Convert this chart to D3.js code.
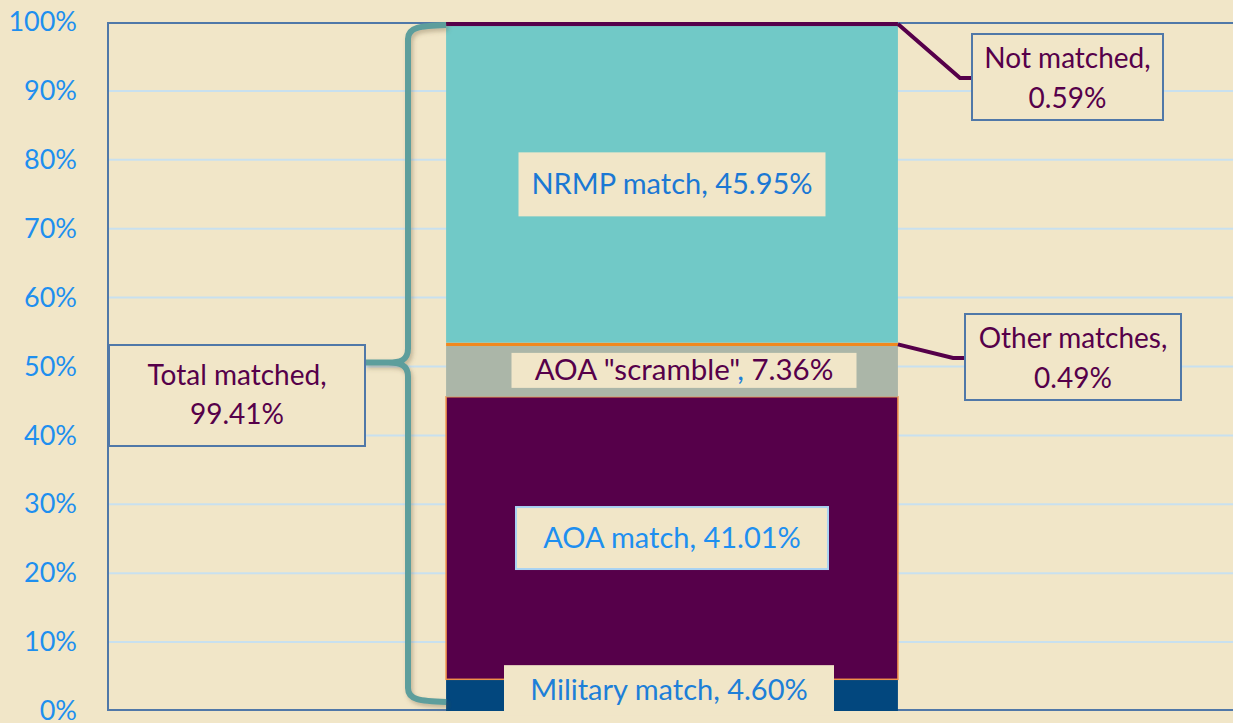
<!DOCTYPE html>
<html>
<head>
<meta charset="utf-8">
<script src="https://cdn.jsdelivr.net/npm/d3@7"></script>
<style>
  html, body { margin: 0; padding: 0; background: #f1e6c8; overflow: hidden; }
  svg { display: block; font-family: Lato, "Noto Sans", sans-serif; }
</style>
</head>
<body>
<div id="chart"></div>
<script>
// bar segments, bottom to top
const segments = ["Military match", "AOA match", "AOA \"scramble\"", "Other matches", "NRMP match", "Not matched"];
const shares = [4.60, 41.01, 7.36, 0.49, 45.95, 0.59];
const yTicks = [0, 10, 20, 30, 40, 50, 60, 70, 80, 90, 100];
const totalLabel = "Total matched";
const totalShare = 99.41;

const segColors = ["#02477e", "#56004a", "#abb6a8", "#f0881f", "#71c9c7", "#56004a"];

const W = 1233, H = 723;
const plot = {left: 108, right: 1236, top: 22, bottom: 711};

let svg = d3.select("#chart").append("svg")
    .attr("width", W).attr("height", H);

svg.append("rect").attr("width", W).attr("height", H).attr("fill", "#f1e6c8");

let defs = svg.append("defs");
defs.append("filter").attr("id", "shadow")
    .attr("x", "-50%").attr("y", "-10%").attr("width", "200%").attr("height", "120%")
    .append("feDropShadow")
    .attr("dx", 2).attr("dy", 3).attr("stdDeviation", 2)
    .attr("flood-color", "#6b5a3a").attr("flood-opacity", 0.35);

let y = d3.scaleLinear().domain([0, 100]).range([plot.bottom, plot.top]);
let x = d3.scaleBand().domain(["all"]).range([plot.left, plot.right]).padding(0.428);

// gridlines
svg.append("g")
    .selectAll("line")
    .data(yTicks.filter(d => d > 0 && d < 100))
    .enter().append("line")
    .attr("x1", plot.left).attr("x2", W)
    .attr("y1", d => y(d)).attr("y2", d => y(d))
    .attr("stroke", "#c8e0ef").attr("stroke-width", 2);

// frame
svg.append("path")
    .attr("d", `M${W},${y(100) + 1}H${plot.left}V${plot.bottom - 1}H${W}`)
    .attr("fill", "none").attr("stroke", "#5078a8").attr("stroke-width", 2);

// y axis labels
let yAxis = svg.append("g")
    .attr("transform", "translate(" + plot.left + ",0)")
    .call(d3.axisLeft(y).tickValues(yTicks).tickFormat(d => d + "%").tickSize(0).tickPadding(31));
yAxis.select(".domain").remove();
yAxis.selectAll("text")
    .attr("fill", "#1e8fef")
    .style("font-size", "27px")
    .style("font-family", "Lato, 'Noto Sans', sans-serif");

// stacked segments
let cum = 0;
let stacked = shares.map((v, i) => {
    let d = {name: segments[i], value: v, y0: cum, y1: cum + v, color: segColors[i]};
    cum += v;
    return d;
});

svg.append("g")
    .selectAll("rect")
    .data(stacked)
    .enter().append("rect")
    .attr("x", x("all"))
    .attr("width", x.bandwidth())
    .attr("y", d => y(d.y1))
    .attr("height", d => y(d.y0) - y(d.y1))
    .attr("fill", d => d.color)
    .attr("stroke", d => d.name === "AOA match" ? "#f0904a" : "none")
    .attr("stroke-width", 1.5);

// labels inside the bar
const cx = x("all") + x.bandwidth() / 2;
function boxLabel(d, opts) {
    let cy = y((d.y0 + d.y1) / 2) + (opts.dy || 0);
    let lx = cx + (opts.dx || 0);
    let g = svg.append("g");
    g.append("rect")
        .attr("x", lx - opts.w / 2).attr("y", cy - opts.h / 2)
        .attr("width", opts.w).attr("height", opts.h)
        .attr("fill", "#f1e6c8")
        .attr("stroke", opts.stroke || "none").attr("stroke-width", 2);
    let t = g.append("text")
        .attr("x", lx).attr("y", cy + 10)
        .attr("text-anchor", "middle")
        .style("font-size", opts.size || "29px")
        .attr("fill", opts.color);
    return t;
}

function pct(v) { return v.toFixed(2) + "%"; }

boxLabel(stacked[0], {w: 330, h: 50, dx: -3, dy: -5, color: "#1d7fd8"})
    .text(stacked[0].name + ", " + pct(stacked[0].value));
boxLabel(stacked[1], {w: 312, h: 62, color: "#1e8ff0", stroke: "#a9d2f2"})
    .text(stacked[1].name + ", " + pct(stacked[1].value));
let scr = boxLabel(stacked[2], {w: 345, h: 35, dx: 12, dy: -1, size: "29.5px", color: "#56004a"});
scr.append("tspan").text(stacked[2].name);
scr.append("tspan").attr("fill", "#1e7fd8").text(",");
scr.append("tspan").text(" " + pct(stacked[2].value));
boxLabel(stacked[4], {w: 307, h: 64, color: "#1b78d4"})
    .text(stacked[4].name + ", " + pct(stacked[4].value));

// callouts on the right
const barRight = x("all") + x.bandwidth();
function callout(d, box, elbow) {
    let sy = y((d.y0 + d.y1) / 2);
    svg.append("path")
        .attr("d", `M${barRight},${sy}L${elbow[0]},${elbow[1]}H${box.x}`)
        .attr("fill", "none").attr("stroke", "#56004a").attr("stroke-width", 4);
    svg.append("rect")
        .attr("x", box.x).attr("y", box.y).attr("width", box.w).attr("height", box.h)
        .attr("fill", "#f1e6c8").attr("stroke", "#5078a8").attr("stroke-width", 2);
    let t = svg.append("text")
        .attr("text-anchor", "middle")
        .attr("fill", "#56004a")
        .style("font-size", "28px");
    t.append("tspan").attr("x", box.x + box.w / 2).attr("y", box.y + 34).text(d.name + ",");
    t.append("tspan").attr("x", box.x + box.w / 2).attr("y", box.y + 74).text(pct(d.value));
}

callout(stacked[5], {x: 972, y: 34, w: 191, h: 86}, [960, 78]);
callout(stacked[3], {x: 965, y: 314, w: 216, h: 86}, [953, 358]);

// brace for total matched
const bx = 408;
const bTop = y(totalShare) - 1, bBot = y(0) - 9, bMid = y(totalShare / 2) - 6;
let brace = d3.path();
brace.moveTo(x("all"), bTop);
brace.bezierCurveTo(420, bTop + 1, bx, bTop + 2, bx, bTop + 14);
brace.lineTo(bx, bMid - 14);
brace.bezierCurveTo(bx, bMid - 2, bx - 8, bMid, bx - 20, bMid);
brace.lineTo(365, bMid);
brace.moveTo(bx - 20, bMid);
brace.bezierCurveTo(bx - 8, bMid, bx, bMid + 2, bx, bMid + 14);
brace.lineTo(bx, bBot - 14);
brace.bezierCurveTo(bx, bBot - 2, 420, bBot - 1, x("all"), bBot);
svg.append("path")
    .attr("d", brace.toString())
    .attr("fill", "none")
    .attr("stroke", "#5d9e9c").attr("stroke-width", 6)
    .attr("stroke-linejoin", "round")
    .attr("filter", "url(#shadow)");

svg.append("rect")
    .attr("x", 109).attr("y", 345).attr("width", 256).attr("height", 101)
    .attr("fill", "#f1e6c8").attr("stroke", "#5078a8").attr("stroke-width", 2);
let tt = svg.append("text").attr("text-anchor", "middle").attr("fill", "#56004a").style("font-size", "28px");
tt.append("tspan").attr("x", 237).attr("y", 385).text(totalLabel + ",");
tt.append("tspan").attr("x", 237).attr("y", 424).text(pct(totalShare));
</script>
</body>
</html>
